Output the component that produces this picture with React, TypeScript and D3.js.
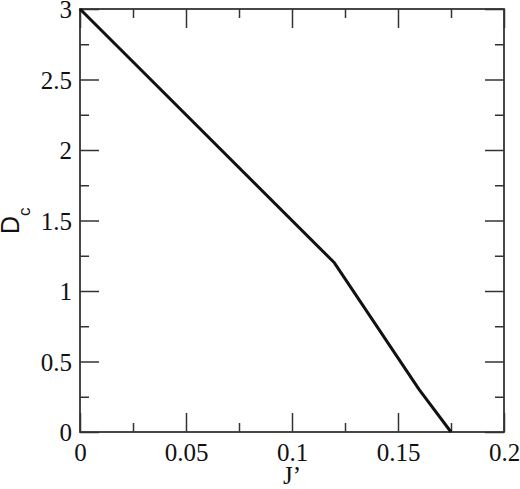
import * as d3 from "d3";
import React, { useEffect, useRef } from "react";

// J' values and critical D along the boundary line
const jPrime = [0, 0.12, 0.16, 0.175];
const dCrit = [3, 1.2, 0.3, 0];

const xTicks = [0, 0.05, 0.1, 0.15, 0.2];
const xTickLabels = ["0", "0.05", "0.1", "0.15", "0.2"];
const xMinor = [0.025, 0.075, 0.125, 0.175];
const yTicks = [0, 0.5, 1, 1.5, 2, 2.5, 3];
const yTickLabels = ["0", "0.5", "1", "1.5", "2", "2.5", "3"];
const yMinor = [0.25, 0.75, 1.25, 1.75, 2.25, 2.75];

const W = 520;
const H = 489;

const App: React.FC = () => {
  const ref = useRef<SVGSVGElement>(null);

  useEffect(() => {
    const margin = { top: 9, right: 16, bottom: 57, left: 80 };
    const width = W - margin.left - margin.right;
    const height = H - margin.top - margin.bottom;

    const svg = d3.select(ref.current).html("");
    const g = svg
      .append("g")
      .attr("transform", `translate(${margin.left},${margin.top})`);

    const x = d3.scaleLinear().domain([0, 0.2]).range([0, width]);
    const y = d3.scaleLinear().domain([0, 3]).range([height, 0]);

    const axisColor = "#333";
    const font = "Liberation Serif, Times New Roman, serif";

    const style = (sel: d3.Selection<SVGGElement, unknown, null, undefined>) => {
      sel.attr("font-family", null).attr("font-size", null);
      sel.select(".domain").remove();
      sel.selectAll(".tick line").attr("stroke", axisColor).attr("stroke-width", 1.5);
      sel
        .selectAll(".tick text")
        .attr("fill", "#111")
        .style("font-family", font)
        .style("font-size", "25px");
    };

    // bottom
    g.append("g")
      .attr("transform", `translate(0,${height})`)
      .call(
        d3
          .axisBottom(x)
          .tickValues(xTicks)
          .tickSize(-19)
          .tickSizeOuter(0)
          .tickPadding(11)
          .tickFormat((_, i) => xTickLabels[i])
      )
      .call(style);
    g.append("g")
      .attr("transform", `translate(0,${height})`)
      .call(d3.axisBottom(x).tickValues(xMinor).tickSize(-9).tickSizeOuter(0).tickFormat(() => ""))
      .call(style);
    // top
    g.append("g")
      .call(d3.axisTop(x).tickValues(xTicks).tickSize(-19).tickSizeOuter(0).tickFormat(() => ""))
      .call(style);
    g.append("g")
      .call(d3.axisTop(x).tickValues(xMinor).tickSize(-9).tickSizeOuter(0).tickFormat(() => ""))
      .call(style);
    // left
    g.append("g")
      .call(
        d3
          .axisLeft(y)
          .tickValues(yTicks)
          .tickSize(-19)
          .tickSizeOuter(0)
          .tickPadding(8)
          .tickFormat((_, i) => yTickLabels[i])
      )
      .call(style)
      .selectAll(".tick text")
      .attr("dy", "0.34em");
    g.append("g")
      .call(d3.axisLeft(y).tickValues(yMinor).tickSize(-9).tickSizeOuter(0).tickFormat(() => ""))
      .call(style);
    // right
    g.append("g")
      .attr("transform", `translate(${width},0)`)
      .call(d3.axisRight(y).tickValues(yTicks).tickSize(-19).tickSizeOuter(0).tickFormat(() => ""))
      .call(style);
    g.append("g")
      .attr("transform", `translate(${width},0)`)
      .call(d3.axisRight(y).tickValues(yMinor).tickSize(-9).tickSizeOuter(0).tickFormat(() => ""))
      .call(style);

    // frame
    g.append("rect")
      .attr("width", width)
      .attr("height", height)
      .attr("fill", "none")
      .attr("stroke", axisColor)
      .attr("stroke-width", 1.8);

    // boundary line
    const line = d3
      .line<number>()
      .x((d) => x(d))
      .y((_, i) => y(dCrit[i]));
    g.append("path")
      .datum(jPrime)
      .attr("d", line)
      .attr("fill", "none")
      .attr("stroke", "#111")
      .attr("stroke-width", 3)
      .attr("stroke-linejoin", "round");

    // x label
    svg
      .append("text")
      .attr("x", margin.left + width / 2)
      .attr("y", 484)
      .attr("text-anchor", "middle")
      .style("font-family", font)
      .style("font-size", "25px")
      .attr("fill", "#111")
      .text("J’");

    // y label
    const yl = svg
      .append("text")
      .attr("transform", "translate(19,234) rotate(-90)")
      .style("font-family", "Liberation Sans, Arial, sans-serif")
      .style("font-size", "25px")
      .attr("fill", "#111");
    yl.append("tspan").text("D");
    yl.append("tspan").style("font-size", "17px").attr("dy", 11).text("c");
  }, []);

  return (
    <svg
      ref={ref}
      width={W}
      height={H}
      style={{ position: "absolute", left: 0, top: 0, background: "#fff" }}
    ></svg>
  );
};

export default App;
